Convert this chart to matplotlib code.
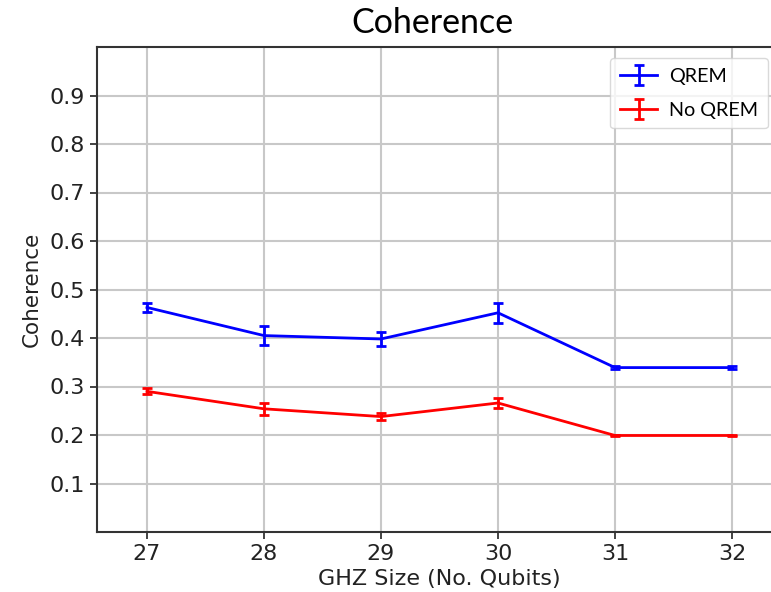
import matplotlib
matplotlib.use("Agg")
import matplotlib.pyplot as plt

# GHZ state sizes and measured coherence
ghz_sizes = [27, 28, 29, 30, 31, 32]

qrem_coherence = [0.463, 0.405, 0.398, 0.452, 0.339, 0.339]
qrem_err = [0.010, 0.020, 0.014, 0.021, 0.003, 0.003]

no_qrem_coherence = [0.290, 0.254, 0.238, 0.266, 0.199, 0.199]
no_qrem_err = [0.006, 0.012, 0.008, 0.011, 0.002, 0.002]

y_ticks = [0.1, 0.2, 0.3, 0.4, 0.5, 0.6, 0.7, 0.8, 0.9]

fig = plt.figure(figsize=(7.71, 5.92), dpi=100)
# the plotting area runs past the right edge of the canvas
ax = fig.add_axes([97 / 771, 1 - 532 / 592, 703 / 771, 485 / 592])

ax.errorbar(ghz_sizes, qrem_coherence, yerr=qrem_err, color="#0000ff",
            linewidth=2, elinewidth=2, capsize=3.5, capthick=2, label="QREM")
ax.errorbar(ghz_sizes, no_qrem_coherence, yerr=no_qrem_err, color="#ff0000",
            linewidth=2, elinewidth=2, capsize=3.5, capthick=2, label="No QREM")

ax.set_xlim(26.573, 32.581)
ax.set_ylim(0.0, 1.0)
ax.set_xticks(ghz_sizes)
ax.set_yticks(y_ticks)
ax.tick_params(labelsize=16, length=5, width=1.2, colors="#222222")
ax.grid(True, color="#c8c8c8", linewidth=1.5)
ax.set_axisbelow(True)
ax.spines["right"].set_visible(False)
for side in ("left", "bottom", "top"):
    ax.spines[side].set_color("#333333")
    ax.spines[side].set_linewidth(1.5)

ax.set_xlabel("GHZ Size (No. Qubits)", fontsize=16, color="#222222", labelpad=4)
ax.xaxis.label.set_x((439 - 97) / 703)
ax.set_ylabel("Coherence", fontsize=15.5, color="#222222", labelpad=6)

fig.text(432 / 771, 1 - 23 / 592, "Coherence", ha="center", va="center",
         fontsize=24.5, family="Lato", color="black")

leg = ax.legend(loc="upper right", bbox_to_anchor=(768 / 771, 1 - 58 / 592),
                bbox_transform=fig.transFigure, prop={"family": "Lato", "size": 14.2},
                handlelength=1.9, handletextpad=0.6, labelspacing=0.85,
                borderpad=0.5, borderaxespad=0, framealpha=0.8,
                edgecolor="#d0d0d0", fancybox=True)

fig.savefig("out.png", dpi=100)
